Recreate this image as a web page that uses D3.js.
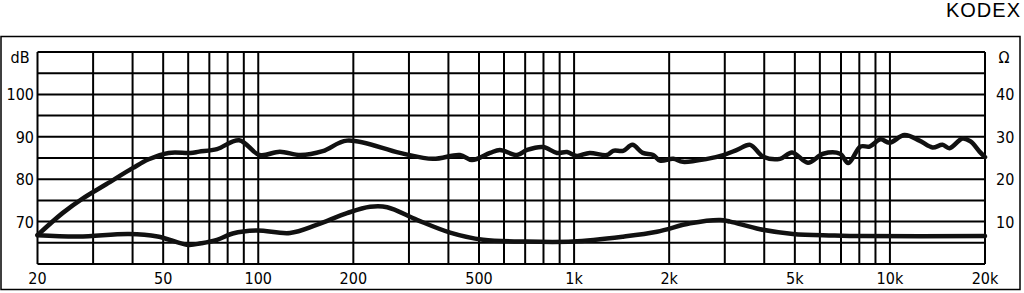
<!DOCTYPE html>
<html>
<head>
<meta charset="utf-8">
<script src="https://cdn.jsdelivr.net/npm/d3@7"></script>
<style>
  body { margin: 0; background: #fff; }
  svg { display: block; }
  .lbl { font-family: "DejaVu Sans Condensed", "DejaVu Sans", sans-serif; font-stretch: condensed; font-size: 16px; fill: #000; }
</style>
</head>
<body>
<svg width="1024" height="293"></svg>
<script>
// frequency response, [Hz, dB]
var spl = [[20,66.8],[24,72],[28,75.6],[33,78.8],[40,82.6],[45,84.7],[52,86.2],[61,86.2],[65,86.5],[74,87.1],[87,89.2],
  [101,85.7],[117,86.5],[136,85.7],[160,86.6],[191,89.1],[281,86.2],[357,84.8],[435,85.7],[475,84.5],[542,86.2],[582,86.9],
  [660,85.7],[710,86.9],[797,87.6],[883,86.2],[950,86.4],[1020,85.5],[1120,86.2],[1270,85.7],[1330,86.7],[1430,86.7],
  [1530,88.1],[1650,86.2],[1780,85.7],[1870,84.4],[2060,84.8],[2210,84.1],[2640,84.8],[2970,85.7],[3280,86.9],[3610,88.1],
  [3970,85.3],[4490,84.8],[4900,86.3],[5500,83.9],[6150,86],[6950,86],[7380,83.8],[8070,87.7],[8620,87.7],[9340,89.4],
  [9970,88.6],[11120,90.4],[12400,89.1],[13640,87.5],[14670,88.1],[15440,87.3],[16980,89.6],[18000,88.9],[19220,86.5],[20000,85.2]];

// impedance, [Hz, ohm]
var imp = [[20,6.8],[27,6.5],[39,7.1],[48,6.5],[60,4.5],[66,4.9],[74,5.7],[83,7.2],[99,7.9],[126,7.3],[153,9.2],[191,12],
  [226,13.5],[256,13.4],[318,10.4],[405,7.4],[515,5.7],[690,5.3],[990,5.3],[1430,6.45],[1830,7.6],[2330,9.6],[2900,10.4],
  [3120,10],[3880,8.2],[4930,7.1],[6610,6.75],[8220,6.6],[20000,6.6]];

var freqGrid = [20,30,40,50,60,70,80,90,100,200,300,400,500,600,700,800,900,
  1000,2000,3000,4000,5000,6000,7000,8000,9000,10000,20000];
var freqLabels = [20,50,100,200,500,1000,2000,5000,10000,20000];
var dbTicks = [70,80,90,100];
var ohmTicks = [10,20,30,40];

var svg = d3.select("svg");
var pLeft = 37.5, pRight = 985, pTop = 52, pBottom = 264;

var x = d3.scaleLog().domain([20, 20000]).range([pLeft, pRight]);
var yDb = d3.scaleLinear().domain([60, 110]).range([pBottom, pTop]);
var yOhm = d3.scaleLinear().domain([0, 50]).range([pBottom, pTop]);

// outer frame
svg.append("rect").attr("x", 1).attr("y", 36.5).attr("width", 1019).attr("height", 253)
  .attr("fill", "none").attr("stroke", "#000").attr("stroke-width", 1.5);

svg.append("text").attr("x", 1021).attr("y", 17).attr("text-anchor", "end")
  .style("font-family", "Liberation Sans, Arial, sans-serif").style("font-size", "20px")
  .style("letter-spacing", "1px").text("KODEX");

// grid
var grid = svg.append("g").attr("stroke", "#000").attr("stroke-width", 2);
grid.selectAll(".v").data(freqGrid).enter().append("line")
  .attr("x1", d => x(d)).attr("x2", d => x(d)).attr("y1", pTop).attr("y2", pBottom);
grid.selectAll(".h").data(d3.range(60, 111, 5)).enter().append("line")
  .attr("x1", pLeft).attr("x2", pRight).attr("y1", d => yDb(d)).attr("y2", d => yDb(d));

// labels
svg.selectAll(".xl").data(freqLabels).enter().append("text").attr("class", "lbl")
  .attr("x", d => x(d)).attr("y", 284).attr("text-anchor", "middle")
  .text(d => d >= 1000 ? (d / 1000) + "k" : d);
svg.selectAll(".yl").data(dbTicks).enter().append("text").attr("class", "lbl")
  .attr("x", 34).attr("y", d => yDb(d) + 6).attr("text-anchor", "end").text(d => d);
svg.selectAll(".yr").data(ohmTicks).enter().append("text").attr("class", "lbl")
  .attr("x", 996).attr("y", d => yOhm(d) + 6).attr("text-anchor", "start").text(d => d);
svg.append("text").attr("class", "lbl").attr("x", 20).attr("y", 63).attr("text-anchor", "middle").text("dB");
svg.append("text").attr("class", "lbl").attr("x", 1004).attr("y", 63).attr("text-anchor", "middle").text("Ω");

// curves
var lineDb = d3.line().x(d => x(d[0])).y(d => yDb(d[1])).curve(d3.curveCatmullRom);
var lineOhm = d3.line().x(d => x(d[0])).y(d => yOhm(d[1])).curve(d3.curveCatmullRom);

svg.append("path").datum(imp).attr("d", lineOhm)
  .attr("fill", "none").attr("stroke", "#111").attr("stroke-width", 4.5).attr("stroke-linejoin", "round").attr("stroke-linecap", "round");
svg.append("path").datum(spl).attr("d", lineDb)
  .attr("fill", "none").attr("stroke", "#111").attr("stroke-width", 4.5).attr("stroke-linejoin", "round").attr("stroke-linecap", "round");
</script>
</body>
</html>
